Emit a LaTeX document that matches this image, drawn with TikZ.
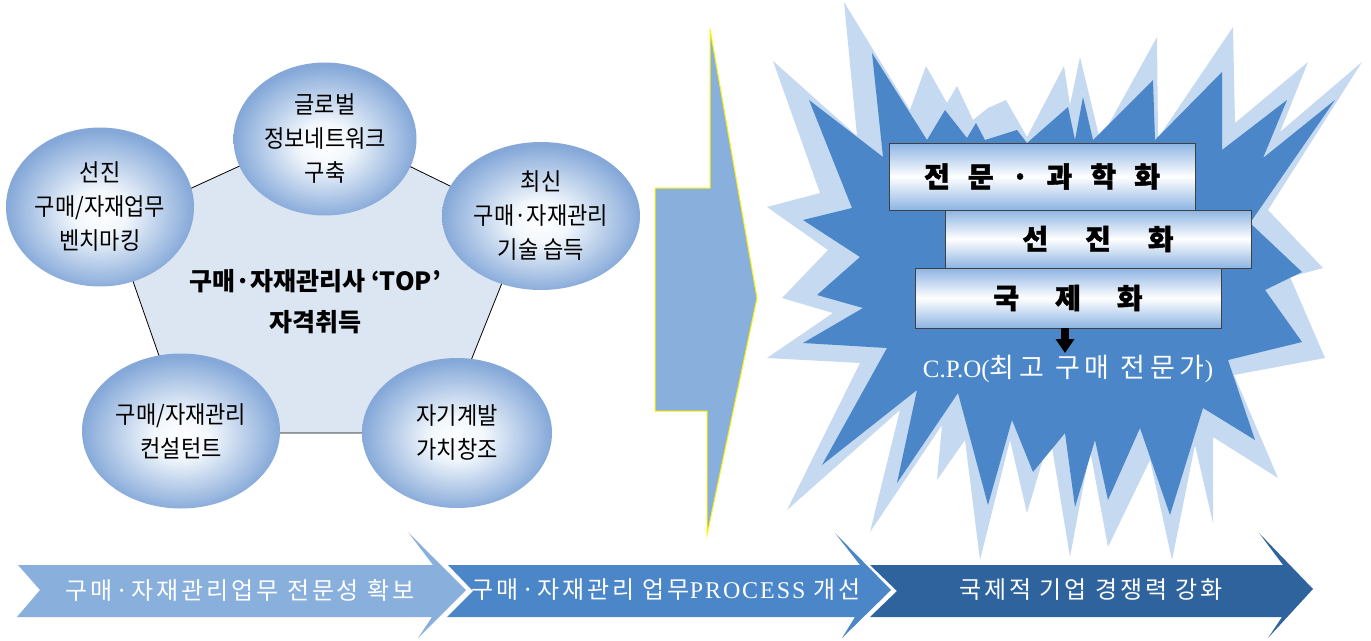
\documentclass[tikz,border=0pt]{standalone}
\usepackage{fontspec}
\usetikzlibrary{shapes.geometric,arrows.meta}
\newfontfamily\kr{Noto Sans CJK KR}
\newfontfamily\krh{Noto Sans CJK KR}[BoldFeatures={FakeBold=1.5}]
\newfontfamily\krc{Noto Sans CJK KR}[FakeStretch=0.92]
\newfontfamily\krsp{Noto Sans CJK KR}[LetterSpace=12]
\newfontfamily\krcpo{Noto Sans CJK KR}[LetterSpace=18]
\newfontfamily\lser{Liberation Serif}
\newfontfamily\lsersp{Liberation Serif}[LetterSpace=8]
\definecolor{arrowblue}{RGB}{137,175,220}
\definecolor{burstlight}{RGB}{197,217,241}
\definecolor{burstdark}{RGB}{74,134,200}
\definecolor{chevdark}{RGB}{47,99,157}
\definecolor{pentfill}{RGB}{220,230,242}
\definecolor{boxblue}{RGB}{141,180,226}
\definecolor{boxline}{RGB}{64,64,64}
\pgfdeclareradialshading{ballshade}{\pgfpoint{0bp}{-2bp}}{rgb(0bp)=(1,1,1); rgb(7bp)=(0.95,0.97,0.99); rgb(25bp)=(0.52,0.66,0.85); rgb(50bp)=(0.52,0.66,0.85)}
\tikzset{
  ball/.style={ellipse, shade, shading=ballshade, inner sep=0pt, align=center,
    font=\krc\fontsize{24}{34}\selectfont},
  pentagonline/.style={fill=pentfill, draw=black, line width=0.8pt},
  stagebox/.style={rectangle, draw=boxline, line width=0.9pt, top color=boxblue,
    bottom color=boxblue, middle color=white, minimum width=306pt, inner sep=0pt,
    font=\krh\bfseries\fontsize{28}{28}\selectfont},
  chevtext/.style={text=white, font=\krsp\fontsize{24}{24}\selectfont, inner sep=0pt}
}
\begin{document}
\begin{tikzpicture}[x=1pt,y=-1pt]
\useasboundingbox (0,0) rectangle (1371,640);
% pentagon
\coordinate (p1) at (327,126);
\coordinate (p2) at (526,223);
\coordinate (p3) at (442,433);
\coordinate (p4) at (186,433);
\coordinate (p5) at (113,224);
\draw[pentagonline] (p1) -- (p2) -- (p3) -- (p4) -- (p5) -- cycle;
% balls
\node[ball, minimum width=183pt, minimum height=153pt] (top) at (325,139) {글로벌\\정보네트워크\\구축};
\node[ball, minimum width=188pt, minimum height=159pt] (left) at (100,207) {선진\\구매/자재업무\\벤치마킹};
\node[ball, minimum width=198pt, minimum height=148pt] (right) at (541,216) {최신\\구매·자재관리\\기술 습득};
\node[ball, minimum width=198pt, minimum height=155pt] (bl) at (181,431) {구매/자재관리\\컨설턴트};
\node[ball, minimum width=190pt, minimum height=150pt] (br) at (457,433) {자기계발\\가치창조};
\node[font=\kr\bfseries\fontsize{25}{41}\selectfont, align=center] (center) at (315,302) {구매·자재관리사 ‘TOP’\\자격취득};
% middle arrow
\fill[arrowblue, draw=yellow, line width=1pt] (655,188) -- (710,188) -- (710,29) -- (757,298) -- (707,535) -- (707,411) -- (655,411) -- cycle;
% starburst
\fill[burstlight] (773,61) -- (857,136) -- (844,2) -- (910,110) -- (926,66) -- (947,103) -- (957,86) -- (973,120) -- (988,108) -- (1006,100) -- (1027,137) -- (1064,66) -- (1070,105) -- (1080,57) -- (1100,140) -- (1157,37) -- (1158,138) -- (1233,27) -- (1235,123) -- (1308,62) -- (1280,132) -- (1362,62) -- (1268,210) -- (1323,268) -- (1290,277) -- (1325,358) -- (1234,375) -- (1278,478) -- (1213,437) -- (1213,523) -- (1195,445) -- (1172,560) -- (1150,460) -- (1108,547) -- (1090,450) -- (1070,557) -- (1050,435) -- (1027,513) -- (1010,440) -- (980,560) -- (965,440) -- (937,480) -- (942,425) -- (870,532) -- (900,410) -- (787,510) -- (860,363) -- (767,358) -- (833,313) -- (782,298) -- (828,250) -- (767,207) -- (820,193) -- cycle;
\fill[burstdark] (809,100) -- (883,157) -- (872,53) -- (927,140) -- (945,110) -- (967,138) -- (976,123) -- (985,140) -- (1017,130) -- (1027,143) -- (1068,107) -- (1075,140) -- (1083,97) -- (1093,140) -- (1153,80) -- (1155,140) -- (1222,72) -- (1222,150) -- (1287,100) -- (1263,158) -- (1335,100) -- (1250,223) -- (1302,272) -- (1265,290) -- (1302,342) -- (1228,360) -- (1255,440) -- (1203,408) -- (1170,515) -- (1140,428) -- (1108,500) -- (1095,440) -- (1075,507) -- (1065,433) -- (1033,472) -- (1012,420) -- (988,505) -- (958,393) -- (897,483) -- (917,390) -- (822,465) -- (887,348) -- (803,343) -- (863,308) -- (817,295) -- (860,257) -- (803,220) -- (852,208) -- cycle;
% stage boxes
\node[stagebox, minimum height=67pt] (box1) at (1042,176.5) {\spaceskip=18pt\relax 전 문 · 과 학 화};
\node[stagebox, minimum height=58pt] (box2) at (1098,239) {\spaceskip=37pt\relax 선 진 화};
\node[stagebox, minimum height=60pt] (box3) at (1068,298) {\spaceskip=36pt\relax 국 제 화};
\node[text=white, inner sep=0pt, font=\krcpo\fontsize{27}{27}\selectfont] (cpo) at (1068,369) {{\lser\fontsize{25}{25}\selectfont C.P.O(}최고 구매 전문가{\lser\fontsize{25}{25}\selectfont )}};
\coordinate (cpotop) at (1065,353);
\draw[line width=8pt, -{Triangle[width=18pt,length=14pt]}] (box3.south -| cpotop) -- (cpotop);
% chevrons
\fill[arrowblue] (18,565) -- (433,565) -- (408,532) -- (466,590) -- (418,638) -- (432,617) -- (17,617) -- (40,590) -- cycle;
\fill[burstdark] (448,565) -- (860,565) -- (835,533) -- (891,590) -- (842,638) -- (855,617) -- (447,617) -- (473,591) -- cycle;
\fill[chevdark] (870,565) -- (1283,565) -- (1259,533) -- (1313,589) -- (1268,638) -- (1282,617) -- (870,617) -- (897,591) -- cycle;
\node[chevtext] (c1) at (240,590) {구매·자재관리업무 전문성 확보};
\node[chevtext] (c2) at (666,590) {구매·자재관리 업무{\lsersp PROCESS} 개선};
\node[chevtext] (c3) at (1091,590) {국제적 기업 경쟁력 강화};
\end{tikzpicture}
\end{document}
